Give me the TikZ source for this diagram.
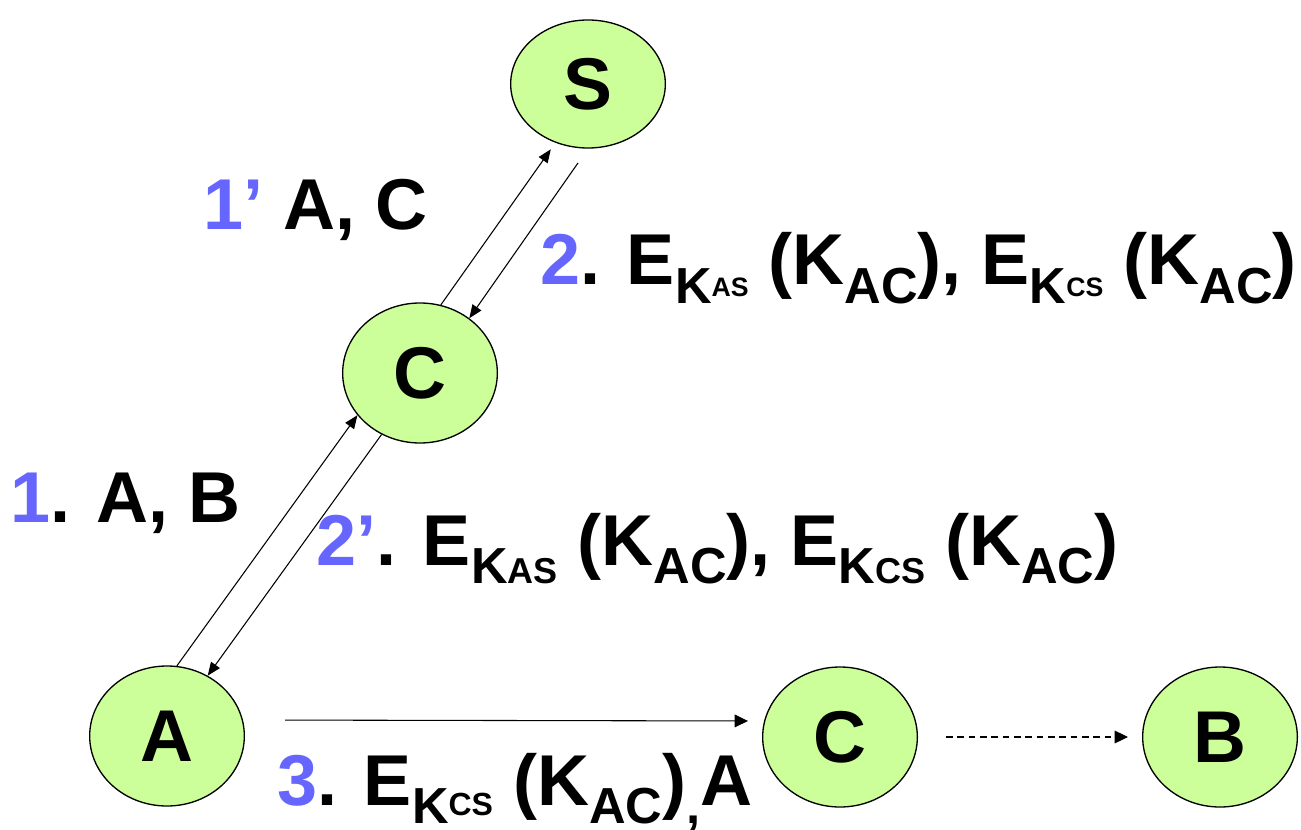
\documentclass[tikz,border=0pt]{standalone}
\usepackage{fontspec}
\setmainfont{Liberation Sans}
\usepackage{xcolor}
\definecolor{clParty}{HTML}{CCFF99}
\definecolor{clStepNo}{HTML}{6666FF}
\usetikzlibrary{arrows.meta,shapes.geometric}
\newcommand{\stepno}[1]{\textcolor{clStepNo}{#1}}
\newcommand{\lowsub}[1]{\raisebox{-14pt}{\fontsize{38}{40}\selectfont #1}}
\newcommand{\tinytag}[3]{\raisebox{#1}{\fontsize{#2}{#2}\selectfont #3}}
\tikzset{
  party/.style={ellipse, draw, line width=1pt, fill=clParty, inner sep=0pt,
                minimum width=116pt, minimum height=105pt,
                font=\fontsize{55}{60}\selectfont\bfseries},
  msg/.style={-{Triangle[length=10pt,width=8pt]}, line width=0.8pt},
  msglabel/.style={anchor=base west, inner sep=0pt,
                   font=\fontsize{54}{60}\selectfont\bfseries},
}
\begin{document}
\begin{tikzpicture}[x=0.75pt, y=-0.75pt]
  \useasboundingbox (0,0) rectangle (1301,830);
  % parties
  \node[party, minimum height=96pt] (S) at (588,84) {S};
  \node[party] (C) at (420,373) {C};
  \node[party] (A) at (167,736) {A};
  \node[party] (Cb) at (840,737) {C};
  \node[party] (B) at (1220,737) {B};
  % messages
  \draw[msg] (A.82) -- (C.214);
  \draw[msg] (C.238) -- (A.56);
  \draw[msg, shorten >=6pt] (C.73) -- (S.241);
  \draw[msg, shorten <=13pt] (S.270) -- (C.48);
  \draw[msg, -{Triangle[length=10pt,width=9.5pt]}, shorten <=30pt, shorten >=10.5pt]
    ([yshift=12pt]A.east) -- ([yshift=12pt]Cb.west);
  \draw[msg, -{Triangle[length=10pt,width=9.5pt]}, dash pattern=on 5pt off 3.5pt,
    shorten <=21pt, shorten >=10.5pt] (Cb.east) -- (B.west);
  % labels
  \node[msglabel] (l1p) at (203,230) {\stepno{1’} A, C};
  \node[msglabel] (l2) at (540,285) {\stepno{2}. E\lowsub{K\tinytag{5pt}{20}{AS}} (K\lowsub{AC}), E\lowsub{K\tinytag{5pt}{20}{CS}} (K\lowsub{AC})};
  \node[msglabel] (l1) at (10,522) {\stepno{1}. A, B};
  \node[msglabel] (l2p) at (316,565) {\stepno{2’}. E\lowsub{K{\fontsize{27}{27}\selectfont AS}} (K\lowsub{AC}), E\lowsub{K{\fontsize{27}{27}\selectfont CS}} (K\lowsub{AC})};
  \node[msglabel] (l3) at (277,805) {\stepno{3}. E\lowsub{K\tinytag{6pt}{24}{CS}} (K\lowsub{AC})\lowsub{,}A};
\end{tikzpicture}
\end{document}
